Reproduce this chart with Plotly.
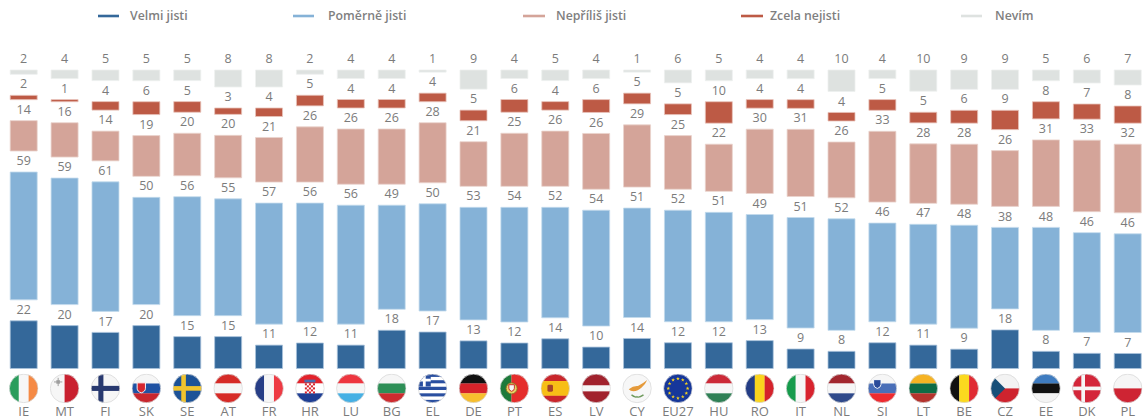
import base64, math
import plotly.graph_objects as go

countries = ["IE","MT","FI","SK","SE","AT","FR","HR","LU","BG","EL","DE","PT","ES","LV","CY","EU27","HU","RO","IT","NL","SI","LT","BE","CZ","EE","DK","PL"]
velmi   = [22,20,17,20,15,15,11,12,11,18,17,13,12,14,10,14,12,12,13,9,8,12,11,9,18,8,7,7]
pomerne = [59,59,61,50,56,55,57,56,56,49,50,53,54,52,54,51,52,51,49,51,52,46,47,48,38,48,46,46]
nepr    = [14,16,14,19,20,20,21,26,26,26,28,21,25,26,26,29,25,22,30,31,26,33,28,28,26,31,33,32]
zcela   = [2,1,4,6,5,3,4,5,4,4,4,5,6,4,6,5,5,10,4,4,4,5,5,6,9,8,7,8]
nevim   = [2,4,5,5,5,8,8,2,4,4,1,9,4,5,4,1,6,5,4,4,10,4,10,9,9,5,6,7]

series_names = ["Velmi jisti","Poměrně jisti","Nepříliš jisti","Zcela nejisti","Nevím"]
series_vals = [velmi,pomerne,nepr,zcela,nevim]
colors = ["#34689A","#85B2D7","#D4A499","#BD5A45","#DEE2E0"]
edges  = ["#A9C3DC","#C3DAEC","#EAD3CD","#E8C4BB","#EEF0EF"]

W, H = 1146, 420
X0, DX = 23.7, 40.89
Y0, K = 368.5, 2.145
GAP = 21/K
LBL = 10/K
GREY = "#7B7B7B"
FONT = "Open Sans"

def px_x(p): return (p-X0)/DX
def px_y(p): return (Y0-p)/K

fig = go.Figure()
xs = list(range(len(countries)))
totals = [sum(col) for col in zip(*series_vals)]
cum = [0]*len(xs)
for s,(name,vals) in enumerate(zip(series_names,series_vals)):
    shares = [v*100/t for v,t in zip(vals,totals)]   # the rounded labels do not always add up to 100
    base = [c + s*GAP for c in cum]
    fig.add_trace(go.Bar(x=xs,y=shares,base=base,width=27/DX,name=name,showlegend=False,
                         marker=dict(color=colors[s],line=dict(color=edges[s],width=0.8)),hoverinfo="skip"))
    tops=[b+v for b,v in zip(base,shares)]
    fig.add_trace(go.Scatter(x=xs,y=[t+LBL for t in tops],text=[str(v) for v in vals],mode="text",
                             textposition="middle center",showlegend=False,hoverinfo="skip",
                             textfont=dict(family=FONT,size=12.5,color=GREY)))
    cum=[c+v for c,v in zip(cum,shares)]

fig.add_trace(go.Scatter(x=xs,y=[px_y(412.5)]*len(xs),text=countries,mode="text",textposition="middle center",
                         showlegend=False,hoverinfo="skip",textfont=dict(family=FONT,size=13,color=GREY)))

# ---- flags as small inline SVG pictures
def hs(cols,weights=None):
    weights=weights or [1]*len(cols); t=sum(weights); y=0; o=""
    for c,w in zip(cols,weights):
        h=64*w/t; o+=f'<rect x="0" y="{y:.2f}" width="64" height="{h+0.3:.2f}" fill="{c}"/>'; y+=h
    return o
def vs(cols,weights=None):
    weights=weights or [1]*len(cols); t=sum(weights); x=0; o=""
    for c,w in zip(cols,weights):
        h=64*w/t; o+=f'<rect y="0" x="{x:.2f}" height="64" width="{h+0.3:.2f}" fill="{c}"/>'; x+=h
    return o
def cross(bg,fg,w=10,cx=24):
    return f'<rect width="64" height="64" fill="{bg}"/><rect x="{cx-w/2}" width="{w}" height="64" fill="{fg}"/><rect y="{32-w/2}" width="64" height="{w}" fill="{fg}"/>'
def star(cx,cy,r,c):
    pts=[]
    for i in range(10):
        a=-math.pi/2+i*math.pi/5; rr=r if i%2==0 else r*0.42
        pts.append(f"{cx+rr*math.cos(a):.2f},{cy+rr*math.sin(a):.2f}")
    return f'<polygon points="{" ".join(pts)}" fill="{c}"/>'
def shield(cx,cy,s,fill,line="#fff"):
    return f'<path d="M{cx-s} {cy-s}H{cx+s}V{cy+s*0.3}Q{cx+s} {cy+s*1.1} {cx} {cy+s*1.4}Q{cx-s} {cy+s*1.1} {cx-s} {cy+s*0.3}Z" fill="{fill}" stroke="{line}" stroke-width="2"/>'

def hr():
    o=hs(["#E3222B","#FFFFFF","#1F3F94"])
    for r in range(5):
        for c in range(5):
            if (r+c)%2==0:
                o+=f'<rect x="{21+c*4.4:.1f}" y="{21+r*4.4:.1f}" width="4.4" height="4.4" fill="#D9262E"/>'
    o+='<rect x="20" y="13" width="24" height="6" fill="#4C6FB0"/>'
    return o
def el():
    o=hs(["#2A4FA0","#FFFFFF"]*4+["#2A4FA0"])
    o+='<rect width="28" height="28" fill="#2A4FA0"/><rect x="11" width="6" height="28" fill="#fff"/><rect y="11" width="28" height="6" fill="#fff"/>'
    return o
def eu():
    o='<rect width="64" height="64" fill="#16379A"/>'
    for i in range(12):
        a=i*math.pi/6
        o+=star(32+21*math.cos(a),32+21*math.sin(a),4.2,"#F5D21F")
    return o
flags={
 "IE":vs(["#2A9D5C","#F7F7F7","#F58A45"]),
 "MT":vs(["#F6F6F6","#C9202F"])+'<rect x="14" y="14" width="8" height="8" fill="#AAAAAA"/><rect x="17" y="9" width="2" height="18" fill="#999"/><rect x="9" y="17" width="18" height="2" fill="#999"/>',
 "FI":cross("#F6F6F6","#28396F",11,22),
 "SK":hs(["#F6F6F6","#1F52A3","#C8272F"])+shield(21,29,9,"#D6262F"),
 "SE":cross("#1C5297","#F0C32E",10,24),
 "AT":hs(["#D62B27","#F6F6F6","#D62B27"]),
 "FR":vs(["#273E86","#F6F6F6","#EE3A43"]),
 "HR":hr(),
 "LU":hs(["#EE363F","#F6F6F6","#45B0E4"]),
 "BG":hs(["#F6F6F6","#2E8F57","#CE2B2F"]),
 "EL":el(),
 "DE":hs(["#111111","#D5232A","#F7BE2E"]),
 "PT":vs(["#1E7A3B","#E52D2B"],[2,3])+'<circle cx="26" cy="32" r="12" fill="#E8D265" stroke="#8B6B22" stroke-width="2"/>'+shield(26,30,6,"#F5F5F5","#C22"),
 "ES":hs(["#C9262C","#F7BE16","#C9262C"],[1,2,1])+'<rect x="15" y="24" width="12" height="15" rx="3" fill="#A5432B"/>',
 "LV":hs(["#A1222D","#F6F6F6","#A1222D"],[2,1,2]),
 "CY":'<rect width="64" height="64" fill="#F7F7F7"/><path d="M14 34Q24 26 34 27Q44 22 54 14Q50 24 42 30Q34 38 24 38Q18 38 14 34Z" fill="#E59A3A"/><path d="M20 46Q30 53 32 50Q36 53 46 46" fill="none" stroke="#6E9A5C" stroke-width="3"/>',
 "EU27":eu(),
 "HU":hs(["#CC2A38","#F6F6F6","#2F8055"]),
 "RO":vs(["#233D85","#FAD41E","#D5222B"]),
 "IT":vs(["#169B4C","#F6F6F6","#D8232E"]),
 "NL":hs(["#A2272F","#F6F6F6","#2F4A8B"]),
 "SI":hs(["#F6F6F6","#4A6FB8","#EE2B30"])+shield(21,21,8,"#2A4B9A"),
 "LT":hs(["#F6B323","#0E6C45","#B5332D"]),
 "BE":vs(["#111111","#FBD91F","#E02B33"]),
 "CZ":hs(["#F3F3F3","#CE232E"])+'<polygon points="0,0 32,32 0,64" fill="#174F78"/>',
 "EE":hs(["#3F7CC0","#111111","#F3F3F3"]),
 "DK":cross("#D4263A","#F6F6F6",8,24),
 "PL":hs(["#F6F6F6","#CE2433"]),
}
images=[]
FD=29.5
for i,c in enumerate(countries):
    svg=(f'<svg xmlns="http://www.w3.org/2000/svg" viewBox="0 0 64 64" width="128" height="128">'
         f'<defs><clipPath id="c"><circle cx="32" cy="32" r="31"/></clipPath></defs>'
         f'<g clip-path="url(#c)">{flags[c]}</g><circle cx="32" cy="32" r="31" fill="none" stroke="#D8D8D8" stroke-width="1.6"/></svg>')
    src="data:image/svg+xml;base64,"+base64.b64encode(svg.encode()).decode()
    images.append(dict(source=src,xref="x",yref="y",x=i,y=px_y(388.4),sizex=FD/DX,sizey=FD/K,
                       xanchor="center",yanchor="middle",sizing="stretch",layer="above"))

# ---- legend
legend_line=[(98,119),(293,314),(523,545),(741,763),(961,982)]
legend_text=[129,327,555,769,994]
shapes=[];ann=[]
for (a,b),t,n,c in zip(legend_line,legend_text,series_names,colors):
    shapes.append(dict(type="line",xref="paper",yref="paper",x0=a/W,x1=b/W,y0=1-16/H,y1=1-16/H,line=dict(color=c,width=2.6)))
    ann.append(dict(text=n,xref="paper",yref="paper",x=t/W,y=1-16/H,xanchor="left",yanchor="middle",showarrow=False,borderpad=0,
                    font=dict(family=FONT,size=12.3,color="#7F7F7F",weight=600)))

fig.update_layout(width=W,height=H,margin=dict(l=0,r=0,t=0,b=0),paper_bgcolor="white",plot_bgcolor="white",
    barmode="overlay",images=images,shapes=shapes,annotations=ann,
    xaxis=dict(range=[px_x(0),px_x(W)],visible=False,fixedrange=True),
    yaxis=dict(range=[px_y(H),px_y(0)],visible=False,fixedrange=True),showlegend=False)
fig.write_html("out.html",config={"displayModeBar":False,"responsive":False},
               post_script="document.body.style.margin='0';document.documentElement.style.overflow='hidden';")
